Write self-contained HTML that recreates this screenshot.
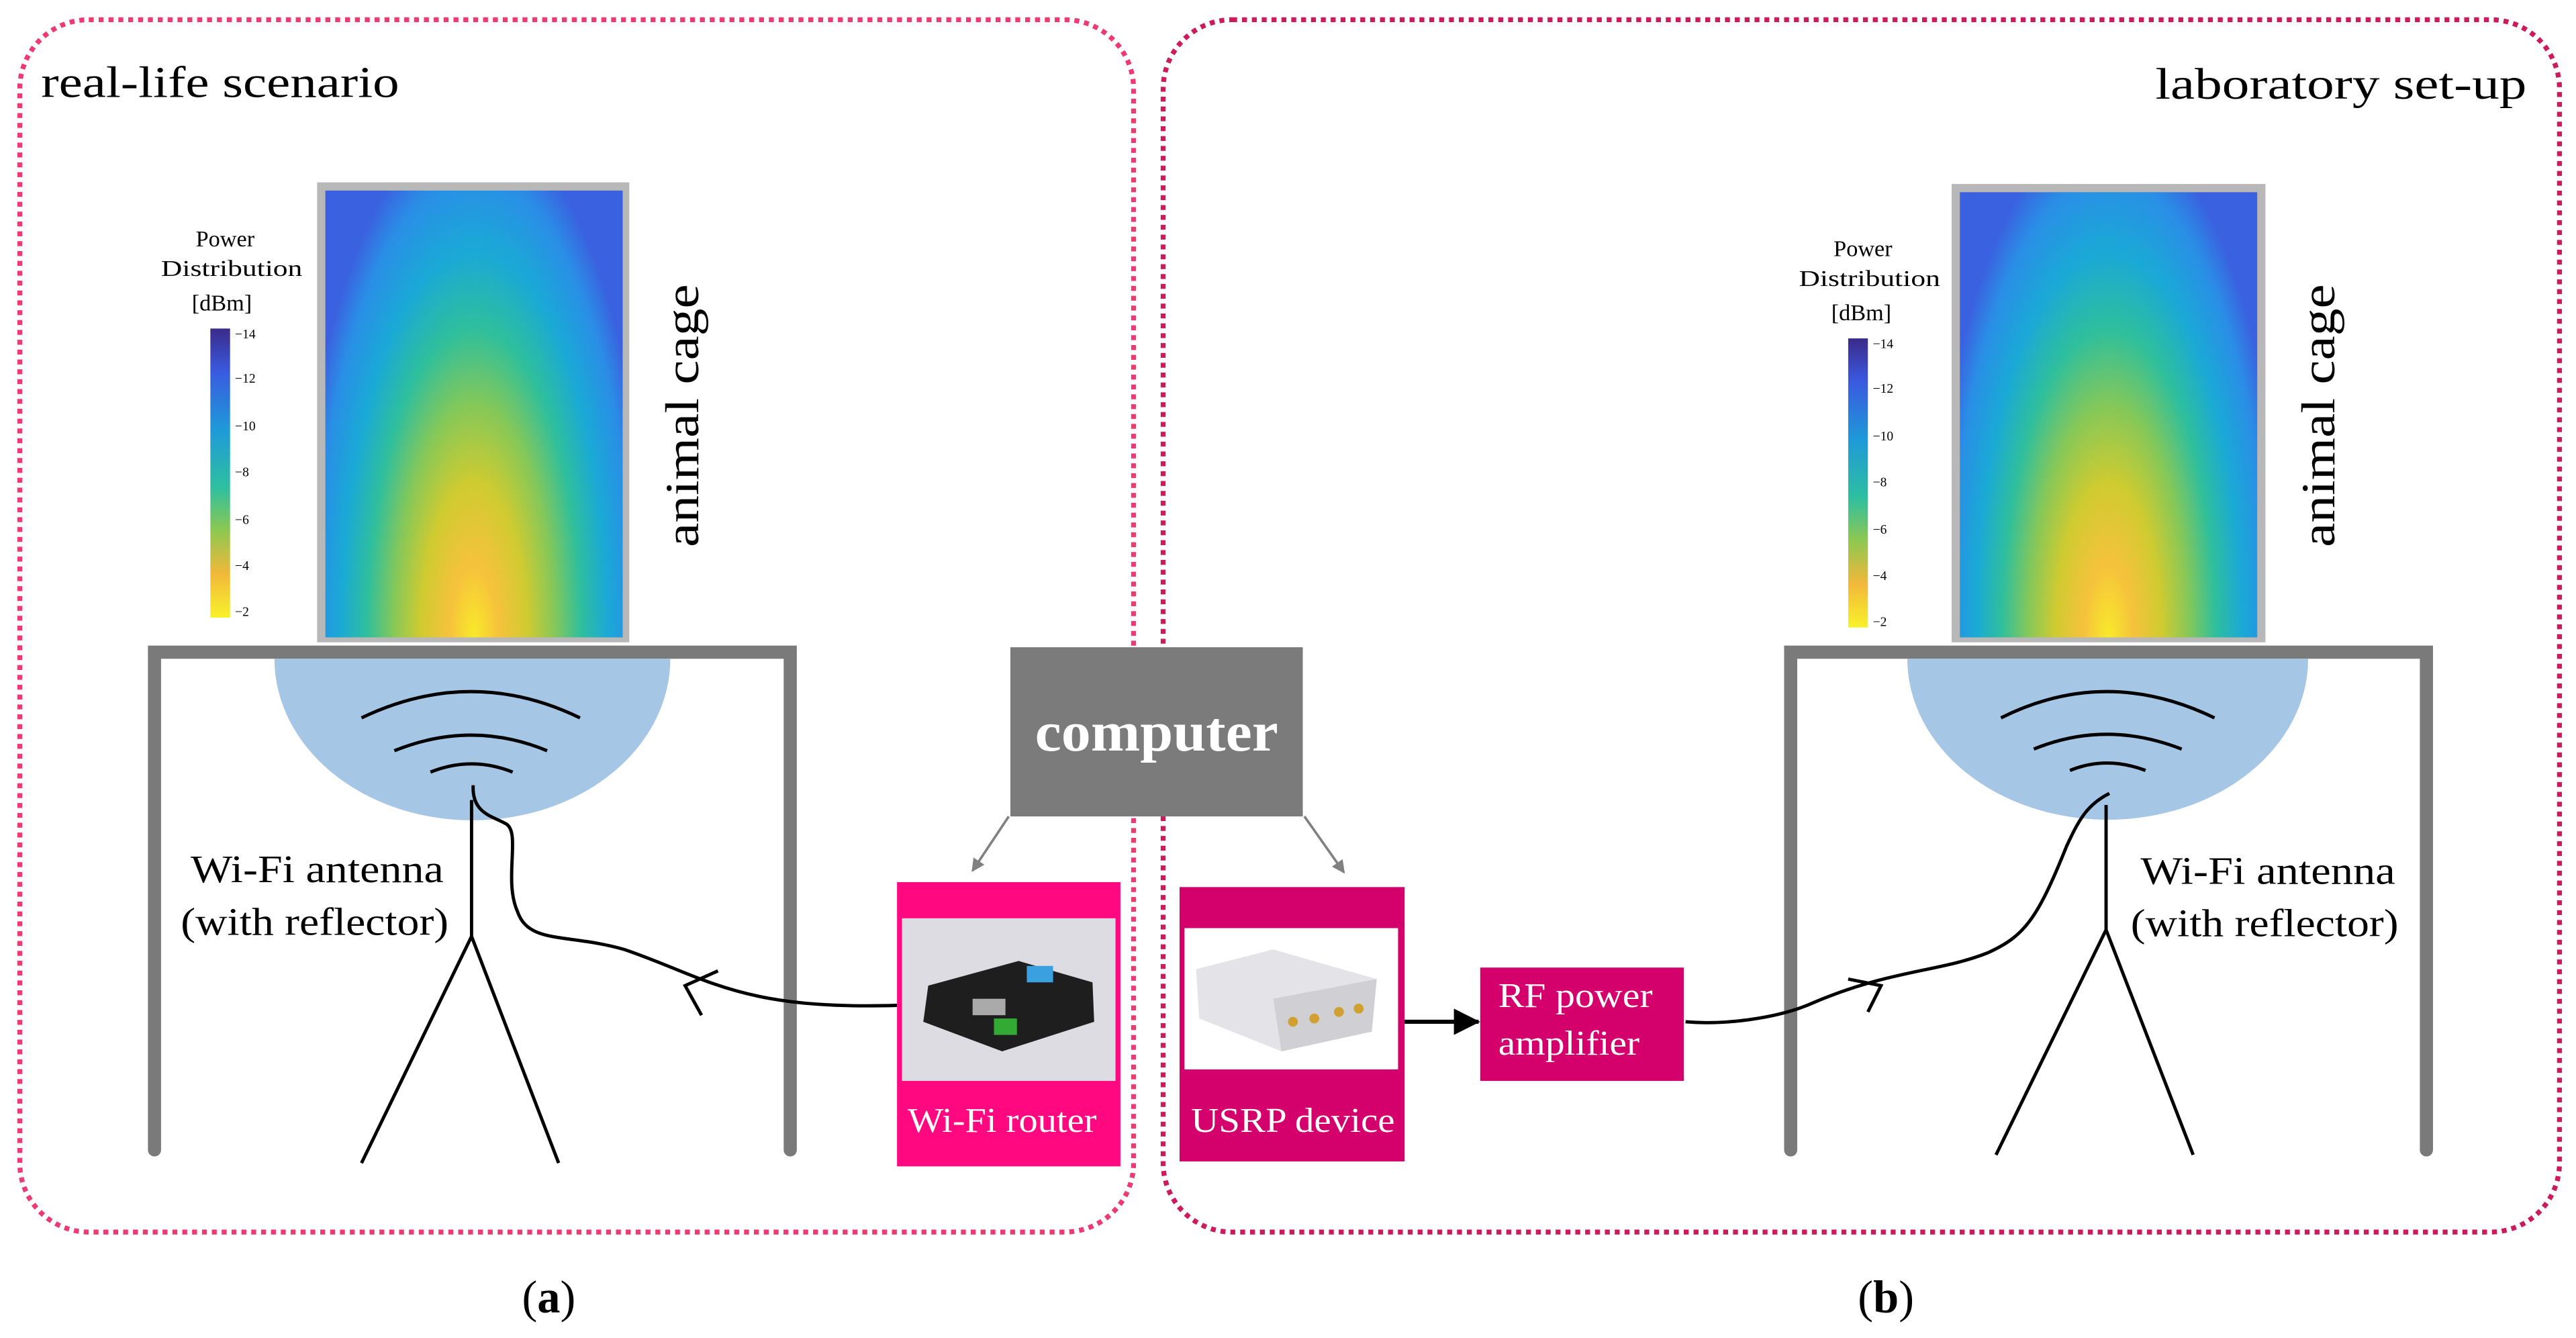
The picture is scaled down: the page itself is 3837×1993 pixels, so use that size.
<!DOCTYPE html>
<html><head><meta charset="utf-8"><style>
html,body{margin:0;padding:0;background:#fff;}
svg{display:block;}
text{font-family:"Liberation Serif",serif;}
</style></head><body>
<svg width="3837" height="1993" viewBox="0 0 1568 814.5" xmlns="http://www.w3.org/2000/svg">
<defs>
<radialGradient id="hm" cx="0.5" cy="1" r="1" fx="0.5" fy="1" gradientTransform="translate(0.5 1) scale(0.6 1.15) translate(-0.5 -1)">
<stop offset="0" stop-color="#f8ea2a"/>
<stop offset="0.14" stop-color="#f6c23c"/>
<stop offset="0.3" stop-color="#cfcb30"/>
<stop offset="0.45" stop-color="#86c858"/>
<stop offset="0.6" stop-color="#2fbf9c"/>
<stop offset="0.75" stop-color="#1aa9d6"/>
<stop offset="0.9" stop-color="#2a8ee6"/>
<stop offset="1" stop-color="#3a62e0"/>
</radialGradient>
<linearGradient id="cb" x1="0" y1="0" x2="0" y2="1">
<stop offset="0" stop-color="#3b2a8a"/>
<stop offset="0.15" stop-color="#3a5ae0"/>
<stop offset="0.35" stop-color="#1e9ad8"/>
<stop offset="0.55" stop-color="#2ebfa0"/>
<stop offset="0.7" stop-color="#8ec850"/>
<stop offset="0.85" stop-color="#f2b83a"/>
<stop offset="1" stop-color="#f8f22a"/>
</linearGradient>
<marker id="ga" markerWidth="8" markerHeight="8" refX="7" refY="4" orient="auto" markerUnits="userSpaceOnUse"><path d="M0,0 L8,4 L0,8 Z" fill="#808080"/></marker>
<marker id="ba" markerWidth="16" markerHeight="16" refX="15" refY="8" orient="auto" markerUnits="userSpaceOnUse"><path d="M0,0 L16,8 L0,16 Z" fill="#000"/></marker>
</defs>

<rect x="12" y="12" width="678" height="738" rx="42" fill="none" stroke="#ee3a72" stroke-width="3" stroke-dasharray="3,3"/>
<rect x="708" y="12" width="850" height="738" rx="42" fill="none" stroke="#cc1a5c" stroke-width="3" stroke-dasharray="3,3"/>

<text x="25" y="59" font-size="27" textLength="218" lengthAdjust="spacingAndGlyphs">real-life scenario</text>
<text x="1312" y="60" font-size="27" textLength="226" lengthAdjust="spacingAndGlyphs">laboratory set-up</text>

<rect x="193" y="111" width="190" height="280" fill="#b8b8b8"/>
<rect x="198" y="116" width="181" height="272" fill="url(#hm)"/>
<text x="137" y="150" font-size="14" text-anchor="middle">Power</text>
<text x="141" y="168" font-size="14" text-anchor="middle" textLength="86" lengthAdjust="spacingAndGlyphs">Distribution</text>
<text x="135" y="189" font-size="14" text-anchor="middle">[dBm]</text>
<rect x="128" y="200" width="12" height="176" fill="url(#cb)"/>
<g font-size="8" font-family="Liberation Sans,sans-serif">
<text x="143" y="206">−14</text><text x="143" y="233">−12</text><text x="143" y="262">−10</text><text x="143" y="290">−8</text><text x="143" y="319">−6</text><text x="143" y="347">−4</text><text x="143" y="375">−2</text>
</g>
<text transform="translate(425,253) rotate(-90)" font-size="29" text-anchor="middle" textLength="160" lengthAdjust="spacingAndGlyphs">animal cage</text>

<path d="M94,700 V397 H481 V700" fill="none" stroke="#7a7a7a" stroke-width="8" stroke-linecap="round"/>
<path d="M167,401 A120,98 0 0 0 408,401 Z" fill="#a6c6e6"/>
<g fill="none" stroke="#000" stroke-width="2">
<path d="M220,437 Q287,405 353,437"/>
<path d="M240,457 Q287,438 333,457"/>
<path d="M262,470 Q287,460 312,470"/>
<path d="M288,478 C287,495 300,497 307,501 C318,505 306,535 315,555 C322,575 345,568 380,578 C430,595 450,615 546,612"/>
<path d="M287,487 V570 M287,570 L220,708 M287,570 L340,708"/>
<path d="M437,591 L417,600 L427,618"/>
</g>
<text x="116" y="537" font-size="24" textLength="154" lengthAdjust="spacingAndGlyphs">Wi-Fi antenna</text>
<text x="110" y="569" font-size="24" textLength="163" lengthAdjust="spacingAndGlyphs">(with reflector)</text>

<rect x="615" y="394" width="178" height="103" fill="#7b7b7b"/>
<text x="704" y="457" font-size="34" font-weight="bold" fill="#fff" text-anchor="middle" textLength="148" lengthAdjust="spacingAndGlyphs">computer</text>
<line x1="614" y1="497" x2="592" y2="530" stroke="#808080" stroke-width="1.5" marker-end="url(#ga)"/>
<line x1="794" y1="497" x2="818" y2="531" stroke="#808080" stroke-width="1.5" marker-end="url(#ga)"/>

<rect x="546" y="537" width="136" height="173" fill="#ff0880"/>
<rect x="549" y="559" width="130" height="99" fill="#dcdce2"/>
<path d="M565,600 L620,585 L665,598 L666,622 L610,640 L562,622 Z" fill="#1e1e1e"/>
<rect x="592" y="608" width="20" height="10" fill="#aaa"/>
<rect x="605" y="620" width="14" height="10" fill="#3a3"/>
<rect x="625" y="588" width="16" height="10" fill="#3aa0e0"/>
<text x="610" y="689" font-size="21" fill="#fff" text-anchor="middle" textLength="115" lengthAdjust="spacingAndGlyphs">Wi-Fi router</text>

<rect x="718" y="540" width="137" height="167" fill="#d4006c"/>
<rect x="721" y="565" width="130" height="86" fill="#fff"/>
<path d="M728,590 L775,578 L838,596 L835,628 L780,640 L730,620 Z" fill="#e4e4e8"/>
<path d="M775,608 L838,596 L835,628 L780,640 Z" fill="#cfcfd4"/>
<circle cx="787" cy="622" r="3" fill="#d0a030"/><circle cx="800" cy="620" r="3" fill="#d0a030"/><circle cx="815" cy="616" r="3" fill="#d0a030"/><circle cx="827" cy="614" r="3" fill="#d0a030"/>
<text x="787" y="689" font-size="21" fill="#fff" text-anchor="middle" textLength="124" lengthAdjust="spacingAndGlyphs">USRP device</text>

<line x1="855" y1="622" x2="900" y2="622" stroke="#000" stroke-width="2.5" marker-end="url(#ba)"/>

<rect x="901" y="589" width="124" height="69" fill="#d4006c"/>
<text x="912" y="613" font-size="21" fill="#fff" textLength="94" lengthAdjust="spacingAndGlyphs">RF power</text>
<text x="912" y="642" font-size="21" fill="#fff" textLength="86" lengthAdjust="spacingAndGlyphs">amplifier</text>

<rect x="1188" y="112" width="191" height="279" fill="#b8b8b8"/>
<rect x="1193" y="117" width="181" height="271" fill="url(#hm)"/>
<text x="1134" y="156" font-size="14" text-anchor="middle">Power</text>
<text x="1138" y="174" font-size="14" text-anchor="middle" textLength="86" lengthAdjust="spacingAndGlyphs">Distribution</text>
<text x="1133" y="195" font-size="14" text-anchor="middle">[dBm]</text>
<rect x="1125" y="206" width="12" height="176" fill="url(#cb)"/>
<g font-size="8" font-family="Liberation Sans,sans-serif">
<text x="1140" y="212">−14</text><text x="1140" y="239">−12</text><text x="1140" y="268">−10</text><text x="1140" y="296">−8</text><text x="1140" y="325">−6</text><text x="1140" y="353">−4</text><text x="1140" y="381">−2</text>
</g>
<text transform="translate(1421,253) rotate(-90)" font-size="29" text-anchor="middle" textLength="160" lengthAdjust="spacingAndGlyphs">animal cage</text>

<path d="M1090,700 V397 H1477 V700" fill="none" stroke="#7a7a7a" stroke-width="8" stroke-linecap="round"/>
<path d="M1161,401 A122,98 0 0 0 1405,401 Z" fill="#a6c6e6"/>
<g fill="none" stroke="#000" stroke-width="2">
<path d="M1218,437 Q1282,405 1348,437"/>
<path d="M1238,456 Q1282,438 1328,456"/>
<path d="M1260,469 Q1282,460 1306,469"/>
<path d="M1284,483 C1270,490 1265,500 1258,515 C1240,560 1232,570 1210,580 C1180,592 1150,590 1100,612 C1080,620 1050,624 1026,622"/>
<path d="M1282,490 V566 M1282,566 L1215,703 M1282,566 L1335,703"/>
<path d="M1125,596 L1145,600 L1137,616"/>
</g>
<text x="1303" y="538" font-size="24" textLength="155" lengthAdjust="spacingAndGlyphs">Wi-Fi antenna</text>
<text x="1297" y="570" font-size="24" textLength="163" lengthAdjust="spacingAndGlyphs">(with reflector)</text>

<text x="334" y="799" font-size="28" text-anchor="middle">(<tspan font-weight="bold">a</tspan>)</text>
<text x="1148" y="799" font-size="28" text-anchor="middle">(<tspan font-weight="bold">b</tspan>)</text>
</svg>
</body></html>
